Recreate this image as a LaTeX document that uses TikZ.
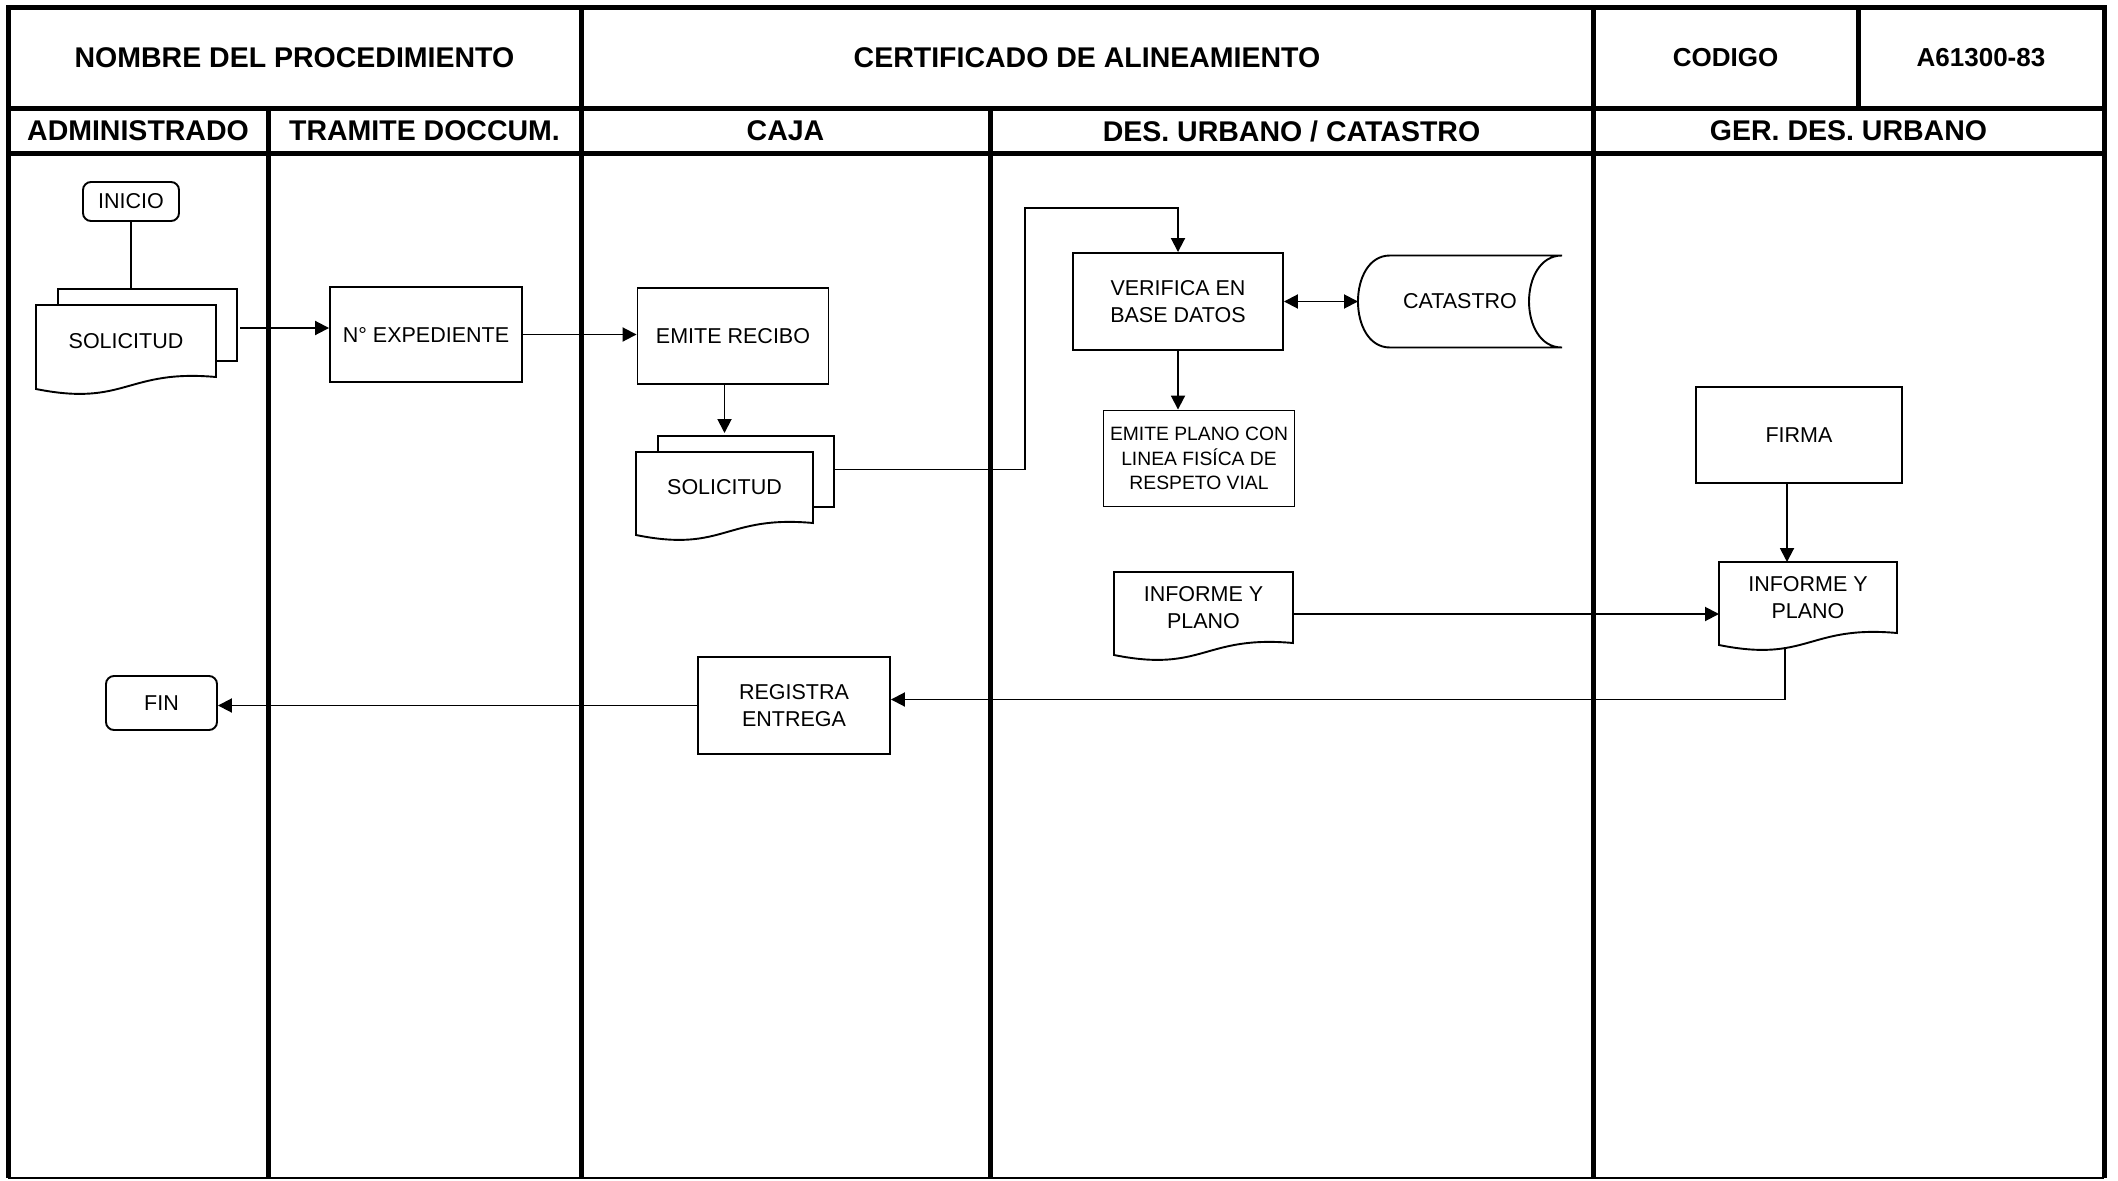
\documentclass[tikz,border=0pt]{standalone}
\usepackage{fontspec}
\setmainfont{Liberation Sans}
\usetikzlibrary{arrows.meta}

\newcommand{\flowfont}{\fontsize{21.5}{27}\selectfont}
\newcommand{\smallflowfont}{\fontsize{19.3}{24.3}\selectfont}
\newcommand{\headfont}{\fontsize{28.5}{34}\selectfont\bfseries}
\newcommand{\codefont}{\fontsize{26}{31}\selectfont\bfseries}

% document outline drawn round a node
\newcommand{\docshape}[1]{%
  \draw[line] (#1.north west) -- (#1.north east) -- (#1.south east)
    .. controls ([shift={(0,-8)}]#1.south) and ([shift={(0,30)}]#1.south)
    .. ([shift={(0,12)}]#1.south west) -- cycle;}
\newcommand{\multidocshape}[1]{%
  \draw[line] ([shift={(22,0)}]#1.north west) -- ++(0,-16)
    -- ([shift={(21,-16)}]#1.north east) -- ([shift={(21,-16)}]#1.south east)
    -- ([shift={(0,-16)}]#1.south east);
  \docshape{#1}}
% stored data outline
\newcommand{\storeshape}[1]{%
  \draw[line] ([shift={(32,0)}]#1.north west) -- (#1.north east)
    .. controls ([shift={(-44,0)}]#1.north east) and ([shift={(-44,0)}]#1.south east) .. (#1.south east)
    -- ([shift={(32,0)}]#1.south west)
    .. controls ([shift={(-10.7,0)}]#1.south west) and ([shift={(-10.7,0)}]#1.north west) .. ([shift={(32,0)}]#1.north west) -- cycle;}

\begin{document}
\begin{tikzpicture}[x=1pt, y=-1pt,
    line/.style={line width=1.9pt},
    frame/.style={line width=5pt},
    arrow/.style={line, -{Triangle[length=14pt, width=14pt]}},
    both/.style={line, {Triangle[length=14pt, width=14pt]}-{Triangle[length=14pt, width=14pt]}},
    box/.style={rectangle, draw, line, align=center, font=\flowfont},
    term/.style={box, rounded corners=8pt},
    doc/.style={rectangle, inner sep=0pt, outer sep=0pt, align=center, font=\flowfont},
    head/.style={font=\headfont},
    code/.style={font=\codefont}
]

\fill[white] (0,0) rectangle (2118,1179);

% Frame
\draw[frame] (8,7.5) -- (2104,7.5);
\draw[frame] (8,108.5) -- (2104,108.5);
\draw[frame] (8,153.5) -- (2104,153.5);
\draw[frame] (8,5) -- (8,1178);
\draw[frame] (2104,5) -- (2104,1178);
\draw[frame] (581,7.5) -- (581,1178);
\draw[frame] (1593,7.5) -- (1593,1178);
\draw[frame] (1858,7.5) -- (1858,108.5);
\draw[frame] (268,108.5) -- (268,1178);
\draw[frame] (990,108.5) -- (990,1178);
\draw[line] (8,1178) -- (2104,1178);

% Header
\node[head] (nombre) at (294.5,58) {NOMBRE DEL PROCEDIMIENTO};
\node[head] (titulo) at (1087,58) {CERTIFICADO DE ALINEAMIENTO};
\node[code] (codigo) at (1725.5,58) {CODIGO};
\node[code] (numero) at (1981,58) {A61300-83};

% Lanes
\node[head] (admin) at (138,131) {ADMINISTRADO};
\node[head] (tramite) at (424.5,131) {TRAMITE DOCCUM.};
\node[head] (caja) at (785.5,131) {CAJA};
\node[head] (desurb) at (1291.5,131) {DES. URBANO / CATASTRO};
\node[head] (gerurb) at (1848.5,131) {GER. DES. URBANO};

% Administrado
\node[term, minimum width=96pt, minimum height=39pt] (inicio) at (131,201.5) {INICIO};
\node[doc, minimum width=180pt, minimum height=72pt] (sol1) at (126,341) {SOLICITUD};
\multidocshape{sol1}
\node[term, minimum width=111pt, minimum height=54pt] (fin) at (161.5,703) {FIN};

% Tramite
\node[box, minimum width=192pt, minimum height=95pt] (exped) at (426,334.5) {N° EXPEDIENTE};

% Caja
\node[box, minimum width=191pt, minimum height=96pt] (recibo) at (733,336) {EMITE RECIBO};
\node[doc, minimum width=177pt, minimum height=71pt] (sol2) at (724.5,487.5) {SOLICITUD};
\multidocshape{sol2}
\node[box, minimum width=192pt, minimum height=97pt] (registra) at (794,705.5) {REGISTRA\\ENTREGA};

% Des. urbano / catastro
\node[box, minimum width=210pt, minimum height=97pt] (verifica) at (1178,301.5) {VERIFICA EN\\BASE DATOS};
\node[doc, minimum width=204pt, minimum height=92pt] (catastro) at (1460,301.5) {CATASTRO};
\storeshape{catastro}
\node[box, font=\smallflowfont, minimum width=191pt, minimum height=96pt] (plano) at (1199,458.5) {EMITE PLANO CON\\LINEA FISÍCA DE\\RESPETO VIAL};
\node[doc, minimum width=179pt, minimum height=71pt] (inf1) at (1203.5,607.5) {INFORME Y\\PLANO};
\docshape{inf1}

% Ger. des. urbano
\node[box, minimum width=206pt, minimum height=96pt] (firma) at (1799,435) {FIRMA};
\node[doc, minimum width=178pt, minimum height=71pt] (inf2) at (1808,597.5) {INFORME Y\\PLANO};
\docshape{inf2}

% Arrows
\coordinate (s1out) at ([shift={(24,-13)}]sol1.east);
\coordinate (s2out) at ([shift={(22,-18)}]sol2.east);
\coordinate (bend) at (1025,208);
\coordinate (i1out) at ([shift={(0,6.5)}]inf1.east);
\coordinate (fout) at ([shift={(-12,0)}]firma.south);
\coordinate (i2out) at ([shift={(-23,15)}]inf2.south);

\draw[line] (inicio.south) -- ([shift={(0,-16)}]sol1.north -| inicio.south);
\draw[arrow] (s1out) -- (s1out -| exped.west);
\draw[arrow] (exped.east) -- (exped.east -| recibo.west);
\draw[arrow] (recibo.south -| sol2.north) -- ([shift={(0,-19)}]sol2.north);
\draw[arrow] (s2out) -| (bend) -| (verifica.north);
\draw[both] (verifica.east) -- (catastro.west);
\draw[arrow] (verifica.south) -- (verifica.south |- plano.north);
\draw[arrow] (i1out) -- (i1out -| inf2.west);
\draw[arrow] (fout) -- (fout |- inf2.north);
\draw[arrow] (i2out) |- ([shift={(0,-6)}]registra.east);
\draw[arrow] (registra.west) -- (registra.west -| fin.east);

\end{tikzpicture}
\end{document}
